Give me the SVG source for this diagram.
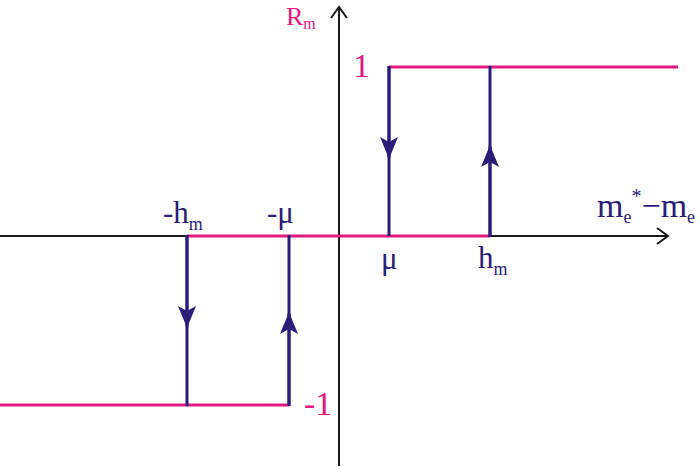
<svg xmlns="http://www.w3.org/2000/svg" width="700" height="467" viewBox="0 0 700 467">
<defs>
<marker id="ah" viewBox="0 0 22 18" refX="21" refY="9" markerWidth="22" markerHeight="18" markerUnits="userSpaceOnUse" orient="auto">
<path d="M0,0 L22,9 L0,18 L5,9 Z" fill="#2b1d78"/>
</marker>
<style>
.ax{stroke:#1a1a1a;stroke-width:2;fill:none}
.pk{stroke:#e0197e;stroke-width:3;fill:none}
.bl{stroke:#2b1d78;stroke-width:3;fill:none}
.tb{fill:#2b1d78}
.tp{fill:#e0197e}
</style>
</defs>
<rect width="700" height="467" fill="#ffffff"/>
<g id="axes">
<line class="ax" x1="0" y1="236" x2="668" y2="236"/>
<polyline class="ax" points="657,228 668,236 657,244"/>
<line class="ax" x1="339" y1="466" x2="339" y2="7"/>
<polyline class="ax" points="331,18 339,7 347,18"/>
</g>
<g id="branches">
<line class="pk" x1="389" y1="67" x2="678" y2="67"/>
<line class="pk" x1="187" y1="236" x2="490" y2="236"/>
<line class="pk" x1="0" y1="405" x2="289" y2="405"/>
</g>
<g id="connectors">
<line class="bl" x1="389" y1="66" x2="389" y2="236"/>
<line class="bl" x1="389" y1="66" x2="389" y2="158" marker-end="url(#ah)"/>
<line class="bl" x1="490" y1="237" x2="490" y2="66"/>
<line class="bl" x1="490" y1="237" x2="490" y2="146" marker-end="url(#ah)"/>
<line class="bl" x1="187" y1="235" x2="187" y2="406"/>
<line class="bl" x1="187" y1="235" x2="187" y2="327" marker-end="url(#ah)"/>
<line class="bl" x1="289" y1="406" x2="289" y2="235"/>
<line class="bl" x1="289" y1="406" x2="289" y2="313" marker-end="url(#ah)"/>
</g>
<g id="labels" font-family="'Liberation Serif', 'Times New Roman', serif">
<text class="tp" x="286" y="25" font-size="26">R<tspan font-size="16" dy="4">m</tspan></text>
<text class="tp" x="353" y="77" font-size="34">1</text>
<text class="tp" x="304" y="415" font-size="34">-1</text>
<text class="tb" x="163" y="223" font-size="31">-h<tspan font-size="18" dy="7">m</tspan></text>
<text class="tb" x="267" y="223" font-size="31">-μ</text>
<text class="tb" x="381" y="269" font-size="31">μ</text>
<text class="tb" x="478" y="268" font-size="31">h<tspan font-size="18" dy="7">m</tspan></text>
<text class="tb" x="597" y="217" font-size="34">m<tspan font-size="18" dy="6">e</tspan><tspan font-size="20" dy="-20">*</tspan><tspan dy="14">−m</tspan><tspan font-size="18" dy="6">e</tspan></text>
</g>
</svg>
